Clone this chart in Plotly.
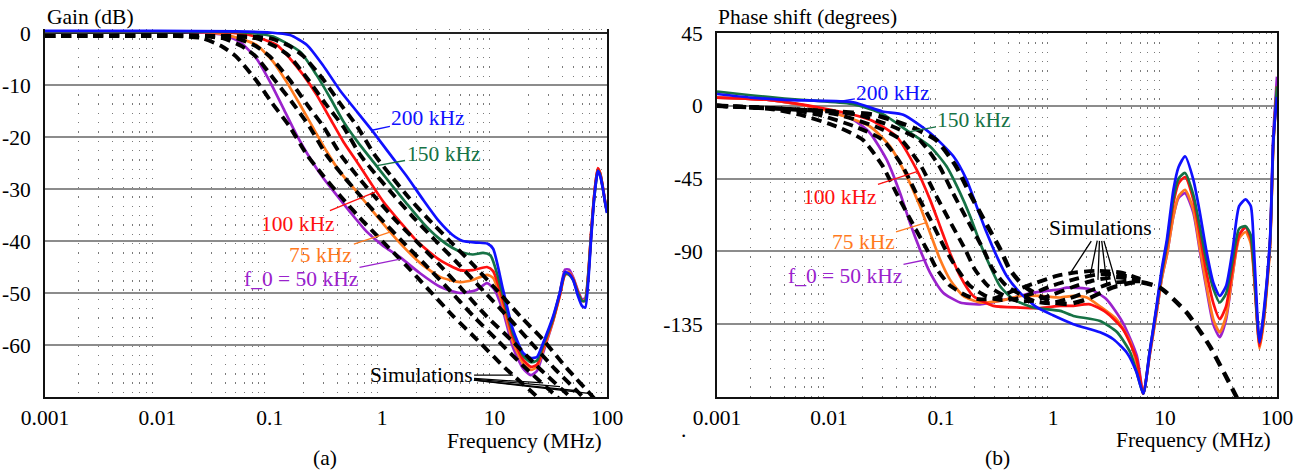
import math
import plotly.graph_objects as go

FONT = "Liberation Serif, Times New Roman, serif"
FS = 21.5
BLUE, GREEN, RED, ORANGE, PURPLE = "#1010ff", "#167245", "#ff1010", "#ff7a1e", "#9a22cc"

# ---------------- Gain panel (a) data : frequency in MHz, gain in dB ----------------
g200_f = [0.001, 0.01, 0.05, 0.1, 0.151, 0.214, 0.297, 0.42, 0.6, 0.83, 1.17, 1.66, 2.3, 3.2, 4.2, 5.2, 7.0, 8.6, 9.7,
          11.9, 14.6, 17.9, 21, 23.8, 27, 33, 38, 42.3, 46, 50, 55, 60, 64, 68, 72, 76, 80, 83, 87, 92, 96, 100]
g200_v = [0.4, 0.4, 0.3, 0.1, -0.4, -2.3, -6.2, -11.0, -15.2, -19.0, -23.3, -27.6, -32.0, -36.2, -38.8, -40.0, -40.3, -40.5, -41.5,
          -49.4, -57.1, -61.5, -62.5, -62.3, -59.6, -54.6, -50, -46.0, -46.3, -47.5, -50.5, -52.5, -52.8, -48, -40, -33, -28.5, -26.5, -27.5, -30, -32.5, -34.6]
g150_f = [0.001, 0.01, 0.05, 0.075, 0.107, 0.186, 0.261, 0.343, 0.451, 0.593, 0.834, 1.17, 1.65, 2.3, 3.2, 4.2, 5.2, 6.4, 7.9, 9.2,
          11.9, 14.6, 17.9, 21, 23.8, 27, 33, 38, 42.3, 46, 50, 55, 60, 64, 68, 72, 76, 80, 83, 87, 92, 96, 100]
g150_v = [0.3, 0.3, 0.2, -0.1, -0.7, -3.6, -8.1, -12.4, -17.0, -20.7, -24.8, -28.8, -32.8, -36.5, -39.5, -41.3, -42.2, -42.6, -42.3, -42.8,
          -50.5, -57.8, -62, -63.3, -63, -60, -55, -50, -46.3, -46.5, -47.5, -50, -51.5, -51.5, -47, -39.5, -33, -28.5, -26.5, -27.3, -30, -32.5, -34.5]
g100_f = [0.001, 0.01, 0.04, 0.067, 0.115, 0.151, 0.199, 0.261, 0.343, 0.451, 0.593, 0.778, 1.02, 1.44, 2.1, 3.27, 4.92, 6.4, 8.56, 9.7,
          11.9, 14.6, 17.9, 21, 23.8, 27, 33, 38, 42.3, 46, 50, 55, 60, 64, 68, 72, 76, 80, 83, 87, 92, 96, 100]
g100_v = [0.3, 0.3, 0.1, -0.4, -2.3, -4.9, -8.1, -11.9, -16.4, -20.9, -24.7, -28.6, -32.4, -36.3, -40.3, -43.7, -45.6, -45.6, -45, -45.8,
          -51.5, -58.5, -62.8, -64.2, -63.8, -60.5, -55.3, -50.5, -46.5, -46.3, -47.3, -49.8, -51.5, -51.5, -47, -39, -32.5, -28, -26, -27, -29.8, -32.3, -34.3]
g75_f = [0.001, 0.01, 0.03, 0.047, 0.076, 0.107, 0.141, 0.186, 0.244, 0.321, 0.421, 0.593, 0.834, 1.17, 1.44, 2.17, 3.27, 4.92, 6.4, 8.56, 9.7,
         11.9, 14.6, 17.9, 21, 23.8, 27, 33, 38, 42.3, 46, 50, 55, 60, 64, 68, 72, 76, 80, 83, 87, 92, 96, 100]
g75_v = [0.3, 0.3, 0.1, -0.7, -2.3, -5.5, -9.4, -13.8, -18.3, -22.8, -26.7, -30.5, -34.4, -38.2, -40.4, -44.2, -46.9, -47.9, -47.5, -46.5, -47.1,
         -52.5, -59.5, -63.5, -64.8, -64.2, -61, -55.5, -50.5, -46.3, -46, -47.2, -49.8, -51.5, -51.3, -46.5, -39, -32.5, -28, -26.2, -27, -29.8, -32.3, -34.3]
g50_f = [0.001, 0.01, 0.025, 0.0386, 0.054, 0.076, 0.1005, 0.132, 0.173, 0.228, 0.299, 0.394, 0.517, 0.728, 1.0, 1.44, 2.17, 3.27, 4.92, 6.9, 8.56, 10,
         11.9, 14.6, 17.9, 21, 23.8, 27, 33, 38, 42.3, 46, 50, 55, 60, 64, 68, 72, 76, 80, 83, 87, 92, 96, 100]
g50_v = [0.3, 0.3, 0.1, -0.4, -1.7, -4.9, -9.4, -14.5, -19.6, -24.1, -27.9, -31.2, -34.4, -38.2, -40.8, -43.1, -46.2, -48.8, -50, -49.4, -48.1, -49.4,
         -53.5, -60.5, -64.5, -65.8, -65, -61.5, -55.5, -50, -45.5, -45.5, -47, -49.5, -51.2, -51, -46.5, -39, -32.5, -28, -26.3, -27, -29.8, -32.3, -34.3]

# simulated gain curves
s200_f = [0.001, 0.05, 0.1, 0.15, 0.2, 0.3, 0.42, 0.6, 0.86, 1.2, 1.7, 2.5, 4, 6.4, 10, 17, 27, 44, 75, 90]
s200_v = [-0.6, -0.6, -1, -2.5, -4.5, -9, -13.5, -18, -23.5, -27.5, -31.5, -35.5, -40, -44.5, -49, -54.5, -59, -64.5, -70, -72]
s150_f = [0.001, 0.04, 0.075, 0.11, 0.15, 0.22, 0.31, 0.45, 0.64, 0.9, 1.3, 1.9, 3, 4.8, 7.5, 13, 20, 34, 61, 80]
s150_v = [-0.6, -0.6, -1, -2.5, -4.5, -9, -13.5, -18, -23.5, -27.5, -31.5, -35.5, -40, -44.5, -49, -54.5, -59, -64.5, -70, -73]
s100_f = [0.001, 0.03, 0.05, 0.075, 0.1, 0.15, 0.21, 0.3, 0.43, 0.6, 0.86, 1.25, 2, 3.2, 5, 8.5, 14, 25, 47, 60]
s100_v = [-0.6, -0.6, -1, -2.5, -4.5, -9, -13.5, -18, -23.5, -27.5, -31.5, -35.5, -40, -44.5, -49, -54.5, -59, -64.5, -70, -72.5]
s75_f = [0.001, 0.02, 0.038, 0.056, 0.075, 0.11, 0.16, 0.225, 0.32, 0.45, 0.65, 0.95, 1.5, 2.4, 3.8, 6.5, 10.5, 19, 36, 50]
s75_v = [-0.6, -0.6, -1, -2.5, -4.5, -9, -13.5, -18, -23.5, -27.5, -31.5, -35.5, -40, -44.5, -49, -54.5, -59, -64.5, -70, -73]
s50_f = [0.001, 0.015, 0.025, 0.037, 0.05, 0.075, 0.105, 0.15, 0.215, 0.3, 0.43, 0.63, 1, 1.6, 2.5, 4.3, 7, 12.5, 24, 32]
s50_v = [-0.6, -0.6, -1, -2.5, -4.5, -9, -13.5, -18, -23.5, -27.5, -31.5, -35.5, -40, -44.5, -49, -54.5, -59, -64.5, -70, -73]

# ---------------- Phase panel (b) data : frequency in MHz, phase in degrees ----------------
hf_f = [6.4, 7.3, 8.4, 9.4, 10.4, 11.9, 13.2, 15.1, 17.9, 20.5, 23.3, 27, 30.8, 35.1, 40.2, 45.9, 52.4, 58.3, 62.3, 66.6, 69.7, 76, 86.6, 92.7, 100]
p200_f = [0.001, 0.002, 0.004, 0.008, 0.0165, 0.03, 0.046, 0.08, 0.129, 0.169, 0.208, 0.256, 0.314, 0.386, 0.507, 0.714, 1.0, 1.52, 2.63, 3.46, 4.55, 5.58] + hf_f
p200_v = [7.3, 5.1, 3.7, 3.1, 2.2, -3.5, -5.5, -16.8, -31.2, -45.6, -62.1, -78.5, -92.9, -105.2, -115.5, -124.5, -129.5, -135, -140, -144.3, -152.5, -164.8,
          -178, -152, -124, -100, -82.6, -51.8, -38, -31.2, -45.6, -66.2, -88.8, -109.3, -117.5, -111.4, -88.8, -62, -57.9, -62, -88.8, -127.8, -146.3, -127.8, -82.6, -21, 5.5]
p150_f = [0.001, 0.002, 0.004, 0.008, 0.0165, 0.03, 0.051, 0.08, 0.112, 0.148, 0.182, 0.223, 0.274, 0.336, 0.442, 0.667, 1.16, 1.52, 2.63, 3.74, 4.9, 5.6] + hf_f
p150_v = [8.8, 6.5, 4.5, 3.0, 1.0, -5, -15.8, -25.1, -37.4, -53.8, -68.2, -84.6, -99.1, -111.4, -119.6, -124.7, -126.8, -129.9, -133, -140, -152.5, -165,
          -178, -152, -125, -102, -85, -57, -45, -41.5, -55, -75, -95, -113, -121.6, -116, -95, -76, -74.4, -80, -100, -132, -146, -130, -85, -23, 12]
p100_f = [0.001, 0.003, 0.008, 0.0232, 0.04, 0.0606, 0.0798, 0.098, 0.12, 0.148, 0.194, 0.293, 0.507, 0.766, 1.16, 1.52, 2.14, 3.0, 4.2, 5.58] + hf_f
p100_v = [5.1, 3.5, -1, -8.6, -18.9, -39.5, -58, -74.4, -90.8, -105.2, -117.5, -123.7, -124.7, -125, -123.7, -123.7, -122.7, -127.8, -138, -156.5,
          -178, -153, -126, -103, -87, -60, -48, -44, -58, -80, -102, -122, -131.9, -124, -100, -80, -75, -82, -102, -133, -148.4, -132, -86, -23, 12]
p75_f = [0.001, 0.003, 0.008, 0.0232, 0.0351, 0.0494, 0.0649, 0.0798, 0.098, 0.12, 0.158, 0.223, 0.336, 0.507, 0.766, 1.16, 1.52, 2.0, 2.63, 3.7, 4.9, 5.6] + hf_f
p75_v = [5, 3.5, -1.5, -12.8, -25.1, -43.6, -62.1, -78.5, -94.9, -107.3, -117.5, -121.6, -120.6, -117.5, -117.5, -118.5, -117.5, -118.5, -124, -132, -146, -160,
         -178, -154, -128, -106, -92, -68, -56, -52, -64, -88, -110, -132, -140, -130, -104, -82, -78, -85, -105, -135, -150, -134, -88, -25, 12]
p50_f = [0.001, 0.003, 0.008, 0.0165, 0.0232, 0.0327, 0.043, 0.0528, 0.0649, 0.0798, 0.1045, 0.148, 0.223, 0.386, 0.667, 1.16, 1.33, 2.15, 3.0, 4.2, 5.6] + hf_f
p50_v = [5, 3.5, -1.5, -8.6, -16.8, -33.3, -53.8, -72.3, -88.8, -103.1, -115.5, -121.6, -122.7, -119.6, -115.5, -113.4, -112.4, -113.4, -119.6, -134, -154.5,
         -178, -154, -128, -106, -92, -68, -57, -54, -66, -90, -112, -135, -143, -132, -104, -80, -75, -82, -103, -134, -148, -132, -84, -18, 18]

# simulated phase curves
q50_f = [0.001, 0.003, 0.0055, 0.0117, 0.02, 0.03, 0.04, 0.053, 0.075, 0.092, 0.12, 0.17, 0.22, 0.3, 0.44, 0.71, 1.1, 1.6, 2.5, 4, 6]
q50_v = [0, -2, -5.5, -12.8, -21, -37, -54, -70, -89, -101, -111, -117.5, -119.6, -119, -114.5, -109.3, -105, -103, -102, -103, -107]
q75_f = [0.001, 0.004, 0.008, 0.017, 0.03, 0.045, 0.06, 0.08, 0.11, 0.14, 0.18, 0.25, 0.33, 0.45, 0.66, 1.0, 1.6, 2.4, 3.5, 5, 6]
q75_v = [0, -2, -5.5, -12.8, -21, -37, -54, -70, -89, -101, -111, -117.5, -120, -119.5, -116, -111, -107, -104.5, -104, -106, -107.5]
q100_f = [0.001, 0.0055, 0.012, 0.026, 0.044, 0.066, 0.088, 0.117, 0.165, 0.2, 0.26, 0.37, 0.48, 0.66, 0.97, 1.5, 2.3, 3.5, 5, 6]
q100_v = [0, -2.5, -5.5, -12.8, -21, -37, -54, -70, -89, -101, -111, -117.5, -120.5, -120.5, -117, -112, -108, -106, -107, -108]
q150_f = [0.001, 0.008, 0.018, 0.037, 0.064, 0.096, 0.128, 0.17, 0.24, 0.29, 0.38, 0.54, 0.7, 0.95, 1.4, 2.2, 3.4, 5, 6]
q150_v = [0, -3, -5.5, -12.8, -21, -37, -54, -70, -89, -101, -111, -117.5, -121, -122, -119, -114, -109.5, -108.5, -108.5]
q200_f = [0.001, 0.011, 0.025, 0.053, 0.09, 0.135, 0.18, 0.24, 0.34, 0.41, 0.54, 0.76, 1.0, 1.4, 2.1, 3.2, 4.5, 6, 9, 15.6, 25, 40, 45]
q200_v = [0, -3.5, -5.5, -12.8, -21, -37, -54, -70, -89, -101, -111, -117.5, -121.5, -122.5, -119, -113, -110, -109, -112.4, -127.8, -148.4, -175, -182]

x_tickvals = [0.001, 0.01, 0.1, 1, 10, 100]
x_ticktext = ["0.001", "0.01", "0.1", "1", "10", "100"]
x_minor = [m * 10 ** e for e in range(-3, 2) for m in range(2, 10)]
gain_ticks = [0, -10, -20, -30, -40, -50, -60]
gain_ticktext = ["0", "-10", "-20", "-30", "-40", "-50", "-60"]
phase_ticks = [45, 0, -45, -90, -135]
phase_ticktext = ["45", "0", "-45", "-90", "-135"]

fig = go.Figure()


def line(xs, ys, color, width, xa, ya, dash="solid"):
    fig.add_trace(go.Scatter(x=xs, y=ys, mode="lines", xaxis=xa, yaxis=ya, showlegend=False, hoverinfo="skip",
                             line=dict(color=color, width=width, dash=dash, shape="spline", smoothing=0.6)))


SIMDASH = "10px,6px"
# gain panel
for xs, ys, c in [(g50_f, g50_v, PURPLE), (g75_f, g75_v, ORANGE), (g100_f, g100_v, RED),
                  (g150_f, g150_v, GREEN), (g200_f, g200_v, BLUE)]:
    line(xs, ys, c, 2.7, "x", "y")
for xs, ys in [(s50_f, s50_v), (s75_f, s75_v), (s100_f, s100_v), (s150_f, s150_v), (s200_f, s200_v)]:
    line(xs, ys, "black", 3.9, "x", "y", SIMDASH)
# phase panel
for xs, ys, c in [(p50_f, p50_v, PURPLE), (p75_f, p75_v, ORANGE), (p100_f, p100_v, RED),
                  (p150_f, p150_v, GREEN), (p200_f, p200_v, BLUE)]:
    line(xs, ys, c, 2.7, "x2", "y2")
for xs, ys in [(q50_f, q50_v), (q75_f, q75_v), (q100_f, q100_v), (q150_f, q150_v)]:
    line(xs, ys, "black", 3.9, "x2", "y2", SIMDASH)
line(q200_f, q200_v, "black", 4.4, "x2", "y2", "11px,7px")

W, H = 1306, 470
tickfont = dict(family=FONT, size=FS, color="black")


def xax(left, right, anchor, mirror):
    return dict(domain=[left / W, right / W], anchor=anchor, type="log", range=[-3, 2], automargin=False,
                tickmode="array", tickvals=x_tickvals, ticktext=x_ticktext, ticks="",
                showgrid=False, zeroline=False, showline=True, linecolor="#111", linewidth=2, mirror=mirror,
                tickfont=tickfont, ticklabelstandoff=0,
                minor=dict(tickmode="array", tickvals=x_minor, showgrid=True, gridcolor="#7a7a7a",
                           gridwidth=1.4, griddash="1.4px,7.9px", ticks=""))


def yax(top, anchor, rng, tv, tt, zl):
    return dict(domain=[(H - 397) / H, (H - top) / H], anchor=anchor, range=rng, tickmode="array", tickvals=tv,
                ticktext=tt, automargin=False, ticks="", showgrid=True, gridcolor="#8c8c8c", gridwidth=2,
                zeroline=zl, zerolinecolor="#222", zerolinewidth=2,
                showline=True, linecolor="#111", linewidth=2, mirror=True,
                tickfont=tickfont, ticklabelstandoff=8)


anns = []


def txt(s, x, y, xanchor="center", color="black"):
    anns.append(dict(text=s, xref="paper", yref="paper", x=x / W, y=1 - y / H, xanchor=xanchor, yanchor="middle",
                     showarrow=False, font=dict(family=FONT, size=FS, color=color)))


def lab(s, xr, yr, fx, fy, ax, ay, color, visible=True):
    anns.append(dict(text=s, xref=xr, yref=yr, x=math.log10(fx), y=fy, ax=ax, ay=ay, axref="pixel", ayref="pixel",
                     showarrow=True, arrowhead=0, arrowwidth=1.3, arrowcolor=color, standoff=0, startstandoff=0,
                     font=dict(family=FONT, size=FS, color=color if visible else "rgba(0,0,0,0)")))


txt("Gain (dB)", 45, 17, "left")
txt("Frequency (MHz)", 604, 441, "right")
txt("(a)", 325, 458)
txt("Phase shift (degrees)", 716, 17, "left")
txt("Frequency (MHz)", 1273, 440, "right")
txt("(b)", 997, 458)
txt(".", 684, 430)

# gain labels
lab("200 kHz", "x", "y", 0.81, -18.7, 56, -12, BLUE)
lab("150 kHz", "x", "y", 0.9, -25.5, 66, -12, GREEN)
lab("100 kHz", "x", "y", 0.863, -30.6, -78, 32, RED)
lab("75 kHz", "x", "y", 1.17, -38.3, -69, 23, ORANGE)
lab("f_0 = 50 kHz", "x", "y", 1.44, -43.5, -99, 20, PURPLE)
for i, (fx, fy, ax, ay) in enumerate([(14.6, -65.8, -92, 0), (27, -67.3, -122, -8), (38.2, -68, -139, -12),
                                      (54, -68.8, -156, -16), (75, -69.4, -172, -20)]):
    lab("Simulations", "x", "y", fx, fy, ax, ay, "black", visible=(i == 0))
# phase labels
lab("200 kHz", "x2", "y2", 0.012, 2.5, 55, -9, BLUE)
lab("150 kHz", "x2", "y2", 0.0528, -16, 64, -12, GREEN)
lab("100 kHz", "x2", "y2", 0.061, -40.7, -77, 25, RED)
lab("75 kHz", "x2", "y2", 0.075, -72, -64, 20, ORANGE)
lab("f_0 = 50 kHz", "x2", "y2", 0.075, -95, -82, 17, PURPLE)
for i, (fx, fy, ax, ay) in enumerate([(1.42, -103.7, 30, -46), (2.14, -105.3, 10, -49), (2.52, -107.6, 2, -52.5),
                                      (3.04, -111, -7, -58), (3.73, -111.6, -17, -59)]):
    lab("Simulations", "x2", "y2", fx, fy, ax, ay, "black", visible=(i == 0))

fig.update_layout(
    template="none",
    width=W, height=H, margin=dict(l=0, r=0, t=0, b=0, pad=0), autosize=False,
    paper_bgcolor="white", plot_bgcolor="white", showlegend=False,
    font=dict(family=FONT, size=FS, color="black"),
    xaxis=xax(45, 607, "y", False),
    yaxis=yax(29, "x", [-70, 0.77], gain_ticks, gain_ticktext, True),
    xaxis2=xax(717, 1277, "y2", True),
    yaxis2=yax(33, "x2", [-180, 45], phase_ticks, phase_ticktext, False),
    annotations=anns,
)

fig.write_html("out.html")
